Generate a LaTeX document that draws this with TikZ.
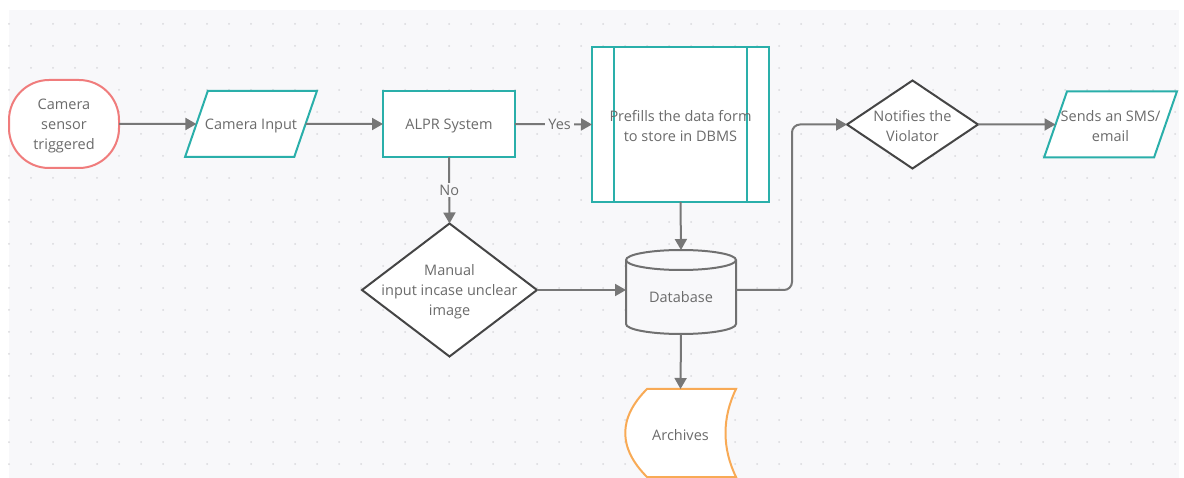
\documentclass[tikz,border=0pt]{standalone}
\usepackage{fontspec}
\setmainfont{Open Sans}
\usetikzlibrary{shapes.geometric,arrows.meta,calc}
\definecolor{canvas}{HTML}{F8F8FA}
\definecolor{dotc}{HTML}{D9D9DC}
\definecolor{txt}{HTML}{6B6B6B}
\definecolor{arrc}{HTML}{777777}
\definecolor{tealc}{HTML}{2AAFAA}
\definecolor{redc}{HTML}{F07C7C}
\definecolor{orangec}{HTML}{F8AA55}
\definecolor{diac}{HTML}{454545}
\definecolor{cylc}{HTML}{707070}
\pgfdeclarelayer{back}
\pgfdeclarelayer{mid}
\pgfsetlayers{back,mid,main}
\begin{document}
\begin{tikzpicture}[x=1pt,y=-1pt,
  every node/.style={font=\fontsize{14.5}{20}\selectfont, text=txt, inner sep=0pt, outer sep=0pt, align=center},
  tx/.style={label={[yshift=-2pt]center:{#1}}},
  arr/.style={draw=arrc, line width=2pt, -{Triangle[length=11pt,width=12pt]}},
  box/.style={rectangle, draw=tealc, line width=2pt, fill=white},
  para/.style={trapezium, trapezium left angle=71.6, trapezium right angle=108.4, trapezium stretches=true, draw=tealc, line width=2pt, fill=white, minimum width=132pt, minimum height=66pt},
  dia/.style={draw=diac, line width=2pt, fill=white},
  frame/.style={rectangle, draw=none},
  lbl/.style={fill=canvas, inner xsep=3pt, inner ysep=2pt},
]
\useasboundingbox (0,0) rectangle (1184,478);
\begin{pgfonlayer}{back}
\fill[white] (0,0) rectangle (1184,478);
\fill[canvas] (9,10) rectangle (1179,478);
\foreach \x in {9,31,...,1175} \foreach \y in {24,46,...,466} \fill[dotc] (\x,\y) circle (1pt);
\end{pgfonlayer}

% nodes
\node[rectangle, rounded corners=40pt, draw=redc, line width=2pt, fill=white, minimum width=110pt, minimum height=88pt, tx={Camera\\sensor\\triggered}] (cam) at (64,124) {};
\node[para, tx={Camera Input}] (cin) at (251,124) {\phantom{M}};
\node[box, minimum width=132pt, minimum height=66pt, tx={ALPR System}] (alpr) at (449,124) {};

\node[frame, minimum width=177pt, minimum height=155pt, tx={Prefills the data form\\to store in DBMS}] (pre) at (680.5,124.5) {};
\begin{pgfonlayer}{mid}
\filldraw[draw=tealc, fill=white, line width=2pt] (pre.north west) rectangle (pre.south east);
\draw[tealc, line width=2pt] ($(pre.north west)+(22,0)$) -- ($(pre.south west)+(22,0)$);
\draw[tealc, line width=2pt] ($(pre.north east)+(-22,0)$) -- ($(pre.south east)+(-22,0)$);
\end{pgfonlayer}

\node[frame, minimum width=175pt, minimum height=133pt, tx={Manual\\input incase unclear\\image}] (man) at (449.5,290) {};
\begin{pgfonlayer}{mid}
\filldraw[dia] (man.north) -- (man.east) -- (man.south) -- (man.west) -- cycle;
\end{pgfonlayer}

\node[frame, minimum width=110pt, minimum height=84pt, label={[yshift=-5pt]center:Database}] (db) at (681,292) {};
\begin{pgfonlayer}{mid}
\filldraw[draw=cylc, fill=canvas, line width=2pt] ($(db.west)+(0,-32)$) -- ($(db.west)+(0,32)$) arc[start angle=180,end angle=360,x radius=55pt,y radius=10pt] -- ($(db.east)+(0,-32)$) arc[start angle=0,end angle=180,x radius=55pt,y radius=10pt] -- cycle;
\draw[cylc, line width=2pt] ($(db.west)+(0,-32)$) arc[start angle=180,end angle=360,x radius=55pt,y radius=10pt];
\end{pgfonlayer}

\node[frame, minimum width=111pt, minimum height=88pt, tx={Archives}] (arch) at (680.5,433) {};
\begin{pgfonlayer}{mid}
\filldraw[draw=orangec, fill=white, line width=2pt] ($(arch.north west)+(22,0)$) -- (arch.north east) .. controls ($(arch.north east)+(-14,29)$) and ($(arch.north east)+(-14,59)$) .. (arch.south east) -- ($(arch.south west)+(22,0)$) .. controls ($(arch.south west)+(-7,-29)$) and ($(arch.south west)+(-7,-59)$) .. cycle;
\end{pgfonlayer}

\node[frame, minimum width=131pt, minimum height=88pt, tx={Notifies the\\Violator}] (notif) at (912.5,124.5) {};
\begin{pgfonlayer}{mid}
\filldraw[dia] (notif.north) -- (notif.east) -- (notif.south) -- (notif.west) -- cycle;
\end{pgfonlayer}

\node[para, minimum width=133pt, tx={Sends an SMS/\\email}] (sms) at (1110.5,124.5) {\phantom{M}};

% connectors
\draw[arr] (cam.east) -- (cin);
\draw[arr] (cin) -- (alpr.west);
\draw[arr] (alpr.east) -- node[lbl, pos=0.58] (yes) {Yes} (pre.west);
\draw[arr] (alpr.south) -- node[lbl] (no) {No} (man.north);
\draw[arr] (pre.south) -- (db.north);
\draw[arr] (man.east) -- (man.east -| db.west);
\draw[arr, rounded corners=8pt] (man.east -| db.east) -- ++(56,0) |- (notif.west);
\draw[arr] (notif.east) -- (sms);
\draw[arr] (db.south) -- (arch.north);
\end{tikzpicture}
\end{document}
